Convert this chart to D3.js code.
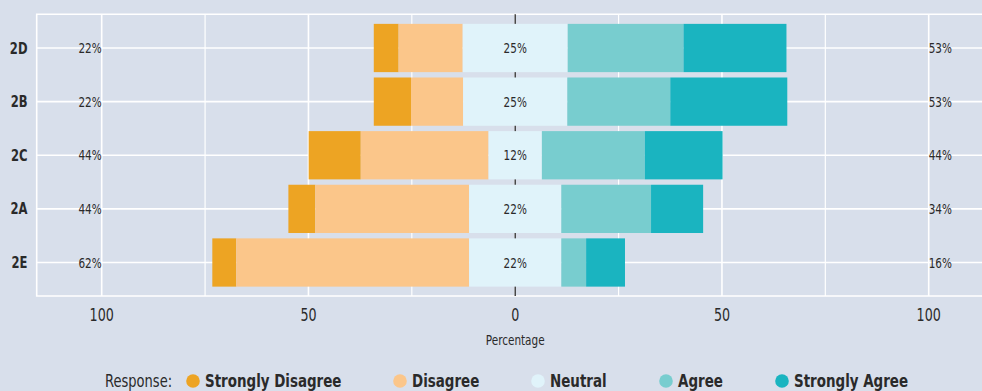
<!DOCTYPE html>
<html><head><meta charset="utf-8">
<script src="https://cdn.jsdelivr.net/npm/d3@7"></script>
<style>
html,body{margin:0;padding:0;background:#d8dfeb;}
svg{display:block;}
text{font-family:"DejaVu Sans Condensed","DejaVu Sans",sans-serif;fill:#2a2a2a;}
</style></head>
<body>
<script>
const categories = ["2D", "2B", "2C", "2A", "2E"];
const responses = ["Strongly Disagree", "Disagree", "Neutral", "Agree", "Strongly Agree"];
const stronglyDisagree = [6.0, 9.0, 12.6, 6.5, 5.8];
const disagree = [15.5, 12.6, 30.9, 37.2, 56.3];
const neutral = [25.4, 25.2, 12.9, 22.3, 22.3];
const agree = [28.0, 24.9, 24.9, 21.7, 6.0];
const stronglyAgree = [24.9, 28.3, 18.8, 12.6, 9.4];
const lowLabels = ["22%", "22%", "44%", "44%", "62%"];
const neutralLabels = ["25%", "25%", "12%", "22%", "22%"];
const highLabels = ["53%", "53%", "44%", "34%", "16%"];
const xTicks = [-100, -50, 0, 50, 100];
const xMinor = [-75, -25, 25, 75];
const colors = ["#eda423", "#fbc68a", "#e0f3fa", "#78cdcf", "#1ab4c0"];

const W = 982, H = 391;
const svg = d3.select("body").append("svg").attr("width", W).attr("height", H);
const panel = {left: 36.7, right: 982, top: 14.3, bottom: 296};
const SX = 0.83; // horizontal condensing to mimic a narrow font

function addText(parent, px, py, txt, size, anchor, weight) {
  const gg = parent.append("g").attr("transform", `translate(${px},${py}) scale(${SX},1)`);
  gg.append("text").attr("x", 0).attr("y", 0).attr("dy", "0.36em")
    .attr("text-anchor", anchor).style("font-size", size + "px")
    .style("font-weight", weight || "normal").text(txt);
  return gg;
}

const x = d3.scaleLinear().domain([-100, 100]).range([101.7, 928.7]);
const y = d3.scalePoint().domain(categories).range([48.0, 262.5]);
const step = y.step();
const barH = step * 0.9;

svg.append("rect").attr("x", 0).attr("y", 0).attr("width", W).attr("height", H).attr("fill", "#d8dfeb");

const g = svg.append("g");
g.selectAll(".minor").data(xMinor).join("line")
  .attr("x1", d => x(d)).attr("x2", d => x(d))
  .attr("y1", panel.top).attr("y2", panel.bottom)
  .attr("stroke", "#fff").attr("stroke-width", 1.2);
g.selectAll(".major").data(xTicks).join("line")
  .attr("x1", d => x(d)).attr("x2", d => x(d))
  .attr("y1", panel.top).attr("y2", panel.bottom)
  .attr("stroke", "#fff").attr("stroke-width", 1.6);
g.selectAll(".hgrid").data(categories).join("line")
  .attr("x1", panel.left).attr("x2", panel.right)
  .attr("y1", d => y(d)).attr("y2", d => y(d))
  .attr("stroke", "#fff").attr("stroke-width", 1.6);
g.append("path")
  .attr("d", `M${panel.right},${panel.top}H${panel.left}V${panel.bottom}H${panel.right}`)
  .attr("fill", "none").attr("stroke", "#fff").attr("stroke-width", 1.6);

g.append("line").attr("x1", x(0)).attr("x2", x(0))
  .attr("y1", panel.top).attr("y2", panel.bottom)
  .attr("stroke", "#1a1a1a").attr("stroke-width", 1.2);

categories.forEach((c, i) => {
  const sd = stronglyDisagree[i], di = disagree[i], ne = neutral[i], ag = agree[i], sa = stronglyAgree[i];
  const segs = [
    [-(ne / 2 + di + sd), -(ne / 2 + di)],
    [-(ne / 2 + di), -ne / 2],
    [-ne / 2, ne / 2],
    [ne / 2, ne / 2 + ag],
    [ne / 2 + ag, ne / 2 + ag + sa]
  ];
  segs.forEach((s, k) => {
    g.append("rect")
      .attr("x", x(s[0])).attr("width", x(s[1]) - x(s[0]))
      .attr("y", y(c) - barH / 2).attr("height", barH)
      .attr("fill", colors[k]);
  });
});

const lab = svg.append("g");
categories.forEach((c, i) => {
  addText(lab, x(-100), y(c), lowLabels[i], 14, "end");
  addText(lab, x(0), y(c), neutralLabels[i], 14, "middle");
  addText(lab, x(100), y(c), highLabels[i], 14, "start");
  addText(lab, 27.5, y(c), c, 15.5, "end", "bold");
});

xTicks.forEach(t => addText(svg, x(t), 315, String(Math.abs(t)), 17, "middle"));
addText(svg, x(0), 340, "Percentage", 14, "middle");

const ly = 381;
addText(svg, 105, ly, "Response:", 17.5, "start");
const legX = [193, 400, 538, 666, 782];
responses.forEach((r, k) => {
  svg.append("circle").attr("cx", legX[k]).attr("cy", ly).attr("r", 6.8).attr("fill", colors[k]);
  addText(svg, legX[k] + 12, ly, r, 18, "start", "bold");
});
</script>
</body></html>
